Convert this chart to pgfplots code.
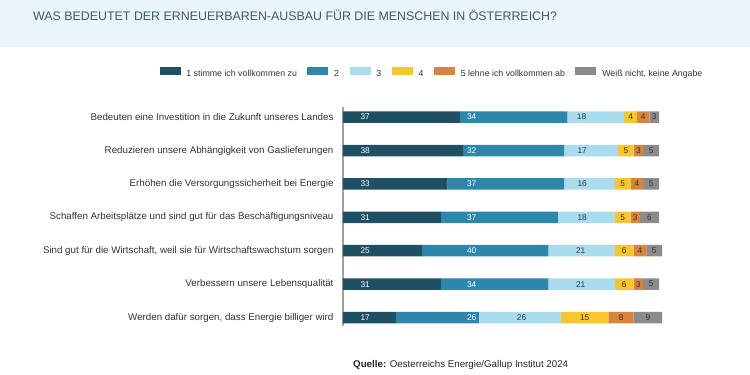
\documentclass[border=0pt]{standalone}
\usepackage{pgfplots}
\pgfplotsset{compat=1.18}
\usepackage{pgfplotstable}
\usepackage{fontspec}
\setmainfont{Liberation Sans}
\definecolor{cA}{HTML}{1E4F62}
\definecolor{cB}{HTML}{2D87AB}
\definecolor{cC}{HTML}{A9DCEF}
\definecolor{cD}{HTML}{F8C52B}
\definecolor{cE}{HTML}{D9843B}
\definecolor{cF}{HTML}{8B8B8B}
\definecolor{band}{HTML}{EAF5FB}
\definecolor{titlec}{HTML}{3D5B68}
\definecolor{txt}{HTML}{333333}
\definecolor{axc}{HTML}{A0A0A0}

\pgfplotstableread{
row c1 c2 c3 c4 c5 c6
0 37 34 18 4 4 3
1 38 32 17 5 3 5
2 33 37 16 5 4 5
3 31 37 18 5 3 6
4 25 40 21 6 4 5
5 31 34 21 6 3 5
6 17 26 26 15 8 9
}\survey

\pgfplotsset{
  geom/.style={
    at={(343pt,49.1pt)}, anchor=south west, scale only axis,
    width=316pt, height=218.8pt,
    xmin=0, xmax=100, ymin=-0.3, ymax=6.25, y dir=reverse, clip=false,
  }
}

\begin{document}
\begin{tikzpicture}
\path[use as bounding box] (0pt,0pt) rectangle (750pt,375pt);
\fill[white] (0pt,0pt) rectangle (750pt,375pt);
\fill[band] (0pt,328pt) rectangle (750pt,375pt);
\node[anchor=west, text=titlec, font=\fontsize{12.4}{14}\selectfont, inner sep=0pt] at (33pt,360pt)
  {WAS BEDEUTET DER ERNEUERBAREN-AUSBAU FÜR DIE MENSCHEN IN ÖSTERREICH?};

\begin{axis}[geom,
  xbar stacked, bar width=11.5pt,
  axis x line=none, axis y line*=left,
  axis line style={-, draw=axc, line width=1.5pt},
  ytick={0,...,6},
  yticklabels={Bedeuten eine Investition in die Zukunft unseres Landes,
    Reduzieren unsere Abhängigkeit von Gaslieferungen,
    Erhöhen die Versorgungssicherheit bei Energie,
    Schaffen Arbeitsplätze und sind gut für das Beschäftigungsniveau,
    {Sind gut für die Wirtschaft, weil sie für Wirtschaftswachstum sorgen},
    Verbessern unsere Lebensqualität,
    {Werden dafür sorgen, dass Energie billiger wird}},
  major tick length=0pt,
  yticklabel style={font=\fontsize{9.75}{11}\selectfont, text=txt, xshift=-6pt},
  legend columns=6,
  legend style={at={(axis description cs:-0.5804,1.1577)}, anchor=west,
    draw=none, fill=none, inner sep=0pt, outer sep=0pt,
    font=\fontsize{8.8}{10}\selectfont, text=txt,
    nodes={inner sep=0pt},
    /tikz/every odd column/.append style={column sep=5.8pt},
    /tikz/every even column/.append style={column sep=10.5pt}},
  legend image code/.code={\fill[#1] (0pt,-1.1pt) rectangle (21pt,7.3pt);},
]
\addplot[fill=cA, draw=none] table[x=c1, y=row]{\survey};
\addlegendentry{1 stimme ich vollkommen zu}
\addplot[fill=cB, draw=none] table[x=c2, y=row]{\survey};
\addlegendentry{2}
\addplot[fill=cC, draw=none] table[x=c3, y=row]{\survey};
\addlegendentry{3}
\addplot[fill=cD, draw=none] table[x=c4, y=row]{\survey};
\addlegendentry{4}
\addplot[fill=cE, draw=none] table[x=c5, y=row]{\survey};
\addlegendentry{5 lehne ich vollkommen ab\hspace{16pt}}
\addplot[fill=cF, draw=none] table[x=c6, y=row]{\survey};
\addlegendentry{Weiß nicht, keine Angabe}
\end{axis}

\begin{axis}[geom, hide axis,
  nodes near coords, point meta=explicit symbolic,
  every node near coord/.style={anchor=center, inner sep=0pt, font=\fontsize{8.3}{9}\selectfont},
]
\addplot[draw=none, mark=none, every node near coord/.append style={text=white}] coordinates {
  (7,0) [37] (40.7,0) [34]
  (7,1) [38] (40.7,1) [32]
  (7,2) [33] (40.7,2) [37]
  (7,3) [31] (40.7,3) [37]
  (7,4) [25] (40.7,4) [40]
  (7,5) [31] (40.7,5) [34]
  (7,6) [17] (40.7,6) [26]
};
\addplot[draw=none, mark=none, every node near coord/.append style={text=txt}] coordinates {
  (75.5,0) [18] (91,0) [4] (95,0) [4] (98.5,0) [3]
  (75.7,1) [17] (89.5,1) [5] (93.5,1) [3] (97.5,1) [5]
  (75.7,2) [16] (88.5,2) [5] (93,2) [4] (97.5,2) [5]
  (75.7,3) [18] (88.5,3) [5] (92.5,3) [3] (97,3) [6]
  (75.2,4) [21] (89,4) [6] (94,4) [4] (98.5,4) [5]
  (75.2,5) [21] (89,5) [6] (93.5,5) [3] (97.5,5) [5]
  (56.5,6) [26] (76.5,6) [15] (88,6) [8] (96.5,6) [9]
};
\end{axis}

\node[anchor=west, inner sep=0pt, text=black!85, font=\fontsize{9.75}{11}\selectfont] at (353pt,10pt)
  {\textbf{Quelle:} Oesterreichs Energie/Gallup Institut 2024};
\end{tikzpicture}
\end{document}
